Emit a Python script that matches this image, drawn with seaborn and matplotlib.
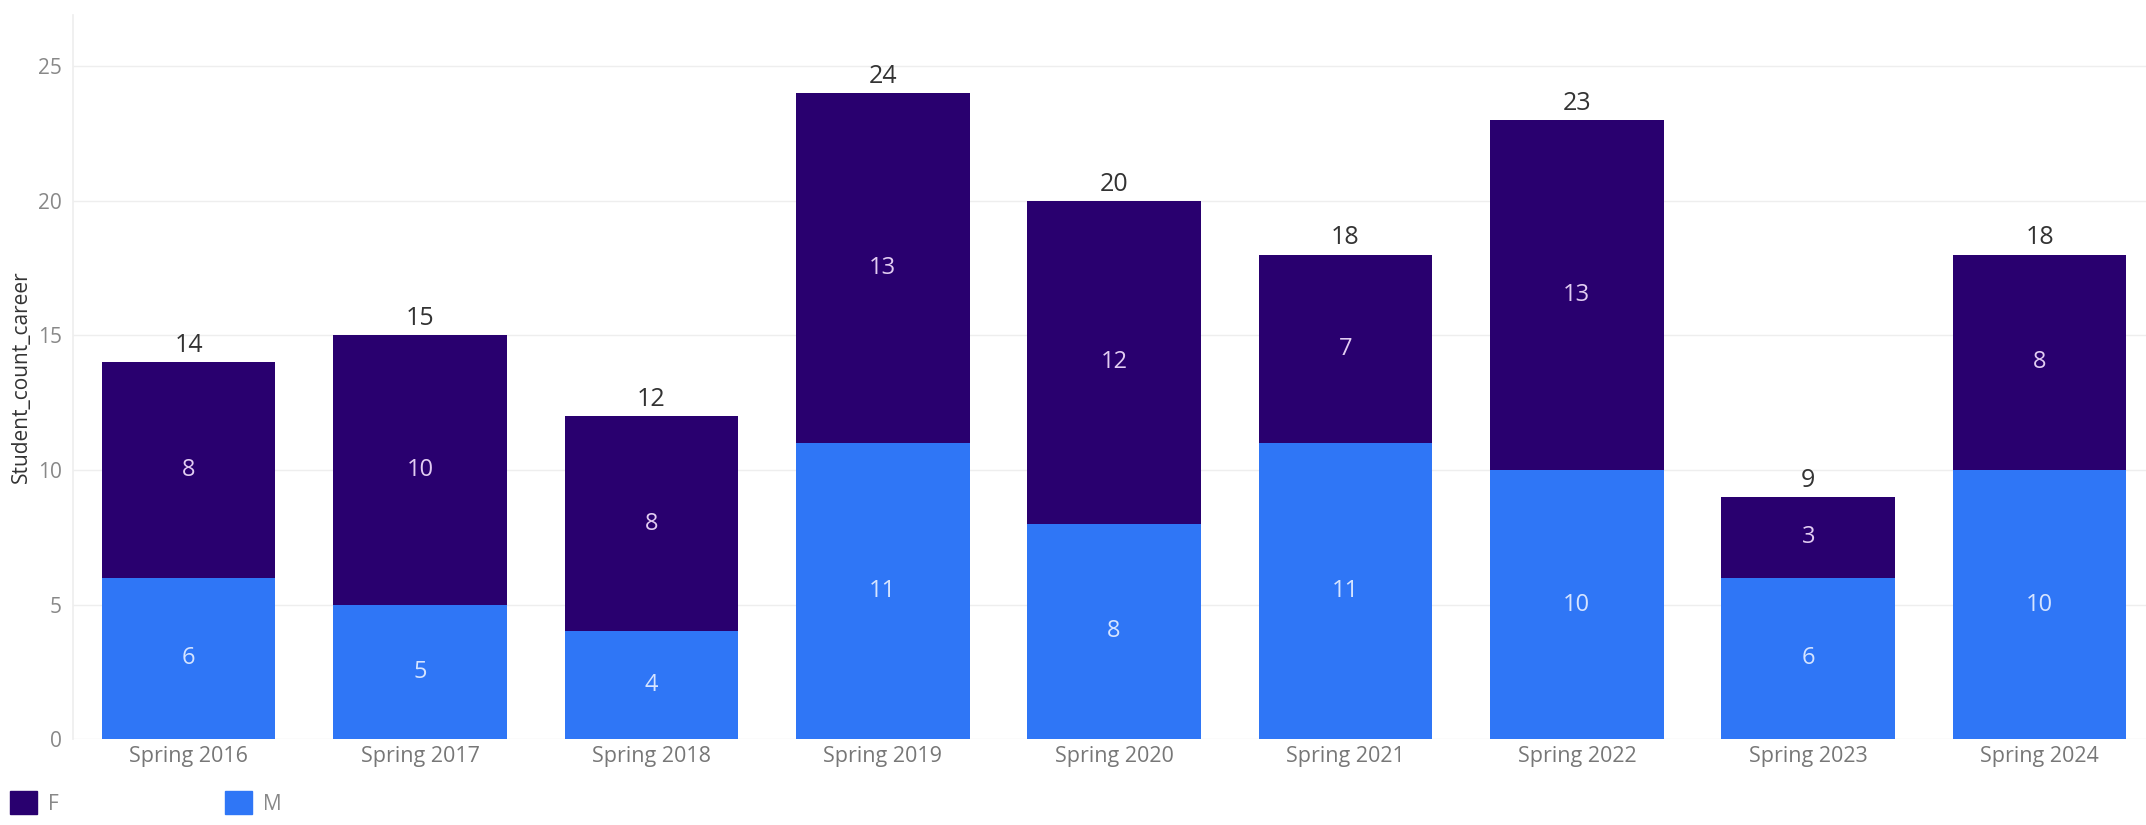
import numpy as np
import pandas as pd
import matplotlib
matplotlib.use("Agg")
import matplotlib.pyplot as plt
import matplotlib.patches as mpatches
import seaborn as sns

# 数据
terms = ["Spring 2016", "Spring 2017", "Spring 2018", "Spring 2019", "Spring 2020",
         "Spring 2021", "Spring 2022", "Spring 2023", "Spring 2024"]
count_f = [8, 10, 8, 13, 12, 7, 13, 3, 8]
count_m = [6, 5, 4, 11, 8, 11, 10, 6, 10]

df = pd.DataFrame({"term": terms, "F": count_f, "M": count_m})
df["total"] = df["F"] + df["M"]

color_f = "#29006f"
color_m = "#2f76f6"

sns.set_theme(style="white")
plt.rcParams['font.family'] = ['Open Sans', 'DejaVu Sans']

fig = plt.figure(figsize=(21.46, 8.25), dpi=100)
ax = fig.add_axes([0.034, 0.104, 0.966, 0.878])

# 堆叠柱：先画总数(F 颜色)，再覆盖 M
sns.barplot(data=df, x="term", y="total", color=color_f, width=0.75,
            saturation=1, ax=ax, zorder=3, linewidth=0)
sns.barplot(data=df, x="term", y="M", color=color_m, width=0.75,
            saturation=1, ax=ax, zorder=3, linewidth=0)

# 标签
for i, row in df.iterrows():
    ax.text(i, row["M"] / 2, str(row["M"]), ha="center", va="center",
            fontsize=17, color="#d6e4ff", zorder=4)
    ax.text(i, row["M"] + row["F"] / 2, str(row["F"]), ha="center", va="center",
            fontsize=17, color="#e2cdf2", zorder=4)
    ax.text(i, row["total"] + 0.15, str(row["total"]), ha="center", va="bottom",
            fontsize=18, color="#333333", zorder=4)

ax.set_ylim(0, 26.9)
ax.set_xlim(-0.5, 8.46)
ax.set_yticks([0, 5, 10, 15, 20, 25])
ax.yaxis.grid(True, color="#eeeeee", linewidth=1, zorder=0)
ax.set_axisbelow(True)
ax.tick_params(axis="y", labelsize=15, labelcolor="#888888", pad=8, length=0)
ax.tick_params(axis="x", labelsize=15.5, labelcolor="#777777", pad=5, length=0)
ax.set_xlabel("")
ax.set_ylabel("Student_count_career", fontsize=15, color="#333333", labelpad=4)

for s in ["top", "right", "bottom"]:
    ax.spines[s].set_visible(False)
ax.spines["left"].set_color("#eeeeee")

# 图例
handles = [mpatches.Patch(color=color_f, label="F"),
           mpatches.Patch(color=color_m, label="M")]
leg = fig.legend(handles=handles, loc="lower left", bbox_to_anchor=(-0.004, -0.01),
                 ncol=2, frameon=False, fontsize=15, handlelength=1.3,
                 handleheight=1.3, handletextpad=0.5, columnspacing=8.0)
for t in leg.get_texts():
    t.set_color("#888888")

fig.savefig("out.png", dpi=100)
